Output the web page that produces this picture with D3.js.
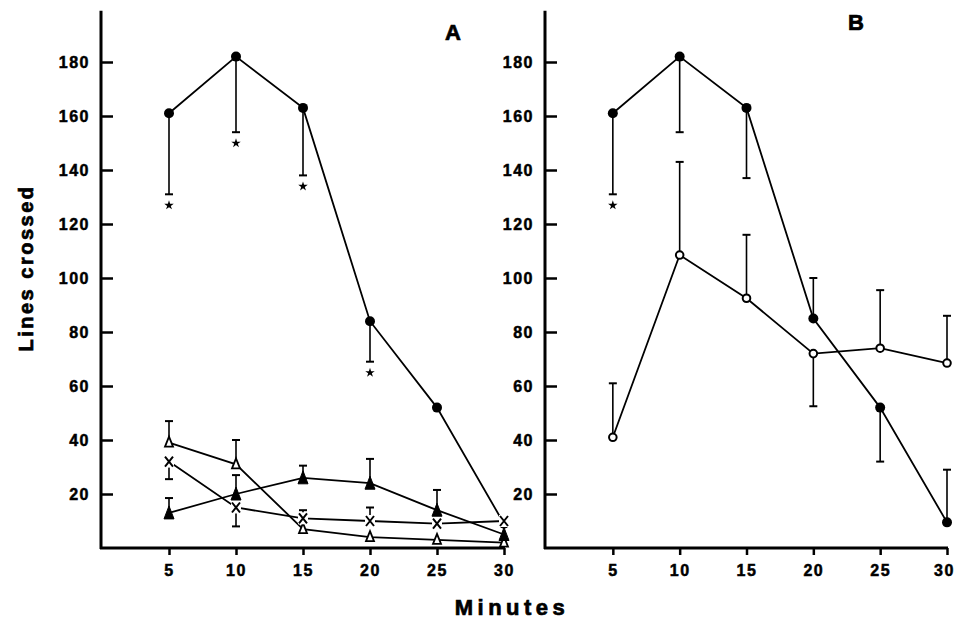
<!DOCTYPE html>
<html>
<head>
<meta charset="utf-8">
<script src="https://cdn.jsdelivr.net/npm/d3@7"></script>
<style>
  body { margin: 0; background: #fff; }
  svg { display: block; }
  .tick text { font-family: "Liberation Sans", Arial, sans-serif; font-weight: bold; font-size: 16px; fill: #000; stroke: #000; stroke-width: 0.5px; letter-spacing: 1.5px; }
  .tick line { stroke: #000; stroke-width: 2.5px; }
  .lbl { font-family: "Liberation Sans", Arial, sans-serif; font-weight: bold; fill: #000; stroke: #000; stroke-width: 0.7px; }
</style>
</head>
<body>
<div id="chart"></div>
<script>
const minutes = [5, 10, 15, 20, 25, 30];
const yTicks = [20, 40, 60, 80, 100, 120, 140, 160, 180];

// panel A
const aFilledCircle = [161, 182, 163, 84, 52, 9];
const aFilledCircleErr = [131, 154, 138, 69, null, null];
const aFilledCircleStars = [5, 10, 15, 20];
const aOpenTri = [39, 31, 7, 4, 3, 2];
const aOpenTriErr = [47, 40, null, null, null, null];
const aCross = [32, 15, 11, 10, 9, 10];
const aCrossErr = [25.5, 8, 14, 15, null, null];
const aFilledTri = [13, 20, 26, 24, 14, 5];
const aFilledTriErr = [18.5, 27, 30.5, 33, 21.5, null];

// panel B
const bFilledCircle = [161, 182, 163, 85, 52, 9.5];
const bFilledCircleErr = [131, 154, 137, 100, 32, 29];
const bFilledCircleStars = [5];
const bOpenCircle = [41, 108.5, 92.5, 72, 74, 68.5];
const bOpenCircleErr = [61, 143, 116, 52.5, 95.5, 86];

const width = 956, height = 625;
const svg = d3.select("#chart").append("svg")
    .attr("width", width)
    .attr("height", height);

const y = d3.scaleLinear().domain([0, 180]).range([548, 62]);
const xA = d3.scaleLinear().domain([0, 30]).range([102, 504]);
const xB = d3.scaleLinear().domain([0, 30]).range([546, 947]);

function drawAxes(x) {
    const g = svg.append("g");
    g.append("g")
        .attr("transform", "translate(" + x(0) + ",0)")
        .call(d3.axisLeft(y).tickValues(yTicks).tickSizeInner(-11).tickSizeOuter(0).tickPadding(12))
        .call(s => s.select(".domain").remove());
    const xg = g.append("g")
        .attr("transform", "translate(0," + y(0) + ")")
        .call(d3.axisBottom(x).tickValues(minutes).tickSizeInner(7).tickSizeOuter(0).tickPadding(10))
        .call(s => s.select(".domain").remove());
    // keep the last label inside the page
    if (x(30) > width - 20) {
        xg.selectAll(".tick text").filter(d => d === 30).attr("dx", -3);
    }
    g.append("line")
        .attr("x1", x(0) - 1).attr("x2", x(0) - 1)
        .attr("y1", y(0) + 1).attr("y2", y(199))
        .attr("stroke", "#000").attr("stroke-width", 3);
    g.append("line")
        .attr("x1", x(0) - 2).attr("x2", x(30) + 1)
        .attr("y1", y(0)).attr("y2", y(0))
        .attr("stroke", "#000").attr("stroke-width", 3);
}

function drawSeries(x, values, errs, marker) {
    const g = svg.append("g");
    const line = d3.line().x((d, i) => x(minutes[i])).y(d => y(d));
    // error bars
    errs.forEach((e, i) => {
        if (e === null) return;
        const cx = x(minutes[i]);
        g.append("line")
            .attr("x1", cx).attr("x2", cx)
            .attr("y1", y(values[i])).attr("y2", y(e))
            .attr("stroke", "#000").attr("stroke-width", 1.6);
        g.append("line")
            .attr("x1", cx - 4).attr("x2", cx + 4)
            .attr("y1", y(e)).attr("y2", y(e))
            .attr("stroke", "#000").attr("stroke-width", 2);
    });
    g.append("path")
        .datum(values)
        .attr("d", line)
        .attr("fill", "none")
        .attr("stroke", "#000")
        .attr("stroke-width", 1.8);
    const pts = g.selectAll(".pt").data(values).join("g")
        .attr("transform", (d, i) => "translate(" + x(minutes[i]) + "," + y(d) + ")");
    if (marker === "filledCircle") {
        pts.append("circle").attr("r", 5).attr("fill", "#000");
    } else if (marker === "openCircle") {
        pts.append("circle").attr("r", 3.8).attr("fill", "#fff")
            .attr("stroke", "#000").attr("stroke-width", 2);
    } else if (marker === "openTri") {
        pts.append("path").attr("d", "M0,-6 L4,4 L-4,4 Z").attr("fill", "#fff")
            .attr("stroke", "#000").attr("stroke-width", 1.8);
    } else if (marker === "filledTri") {
        pts.append("path").attr("d", "M0,-7 L5,6 L-5,6 Z").attr("fill", "#000")
            .attr("stroke", "#000").attr("stroke-width", 1);
    } else if (marker === "cross") {
        pts.append("rect").attr("x", -5).attr("y", -6).attr("width", 10).attr("height", 12).attr("fill", "#fff");
        pts.append("path").attr("d", "M-4,-5 L4,5 M4,-5 L-4,5")
            .attr("stroke", "#000").attr("stroke-width", 2).attr("fill", "none");
    }
}

function drawStars(x, values, errs, starMinutes) {
    starMinutes.forEach(m => {
        const i = minutes.indexOf(m);
        svg.append("path")
            .attr("d", d3.symbol(d3.symbolStar, 28)())
            .attr("transform", "translate(" + x(m) + "," + (y(errs[i]) + 11) + ")")
            .attr("fill", "#000");
    });
}

drawAxes(xA);
drawAxes(xB);

drawSeries(xA, aFilledCircle, aFilledCircleErr, "filledCircle");
drawStars(xA, aFilledCircle, aFilledCircleErr, aFilledCircleStars);
drawSeries(xA, aOpenTri, aOpenTriErr, "openTri");
drawSeries(xA, aFilledTri, aFilledTriErr, "filledTri");
drawSeries(xA, aCross, aCrossErr, "cross");

drawSeries(xB, bOpenCircle, bOpenCircleErr, "openCircle");
drawSeries(xB, bFilledCircle, bFilledCircleErr, "filledCircle");
drawStars(xB, bFilledCircle, bFilledCircleErr, bFilledCircleStars);

// panel letters and axis titles
svg.append("text").attr("class", "lbl").attr("x", 453).attr("y", 40)
    .attr("text-anchor", "middle").attr("font-size", 22).text("A");
svg.append("text").attr("class", "lbl").attr("x", 856).attr("y", 30)
    .attr("text-anchor", "middle").attr("font-size", 22).text("B");
svg.append("text").attr("class", "lbl")
    .attr("transform", "translate(33,268) rotate(-90)")
    .attr("text-anchor", "middle").attr("font-size", 20)
    .attr("letter-spacing", 2.5).text("Lines crossed");
svg.append("text").attr("class", "lbl").attr("x", 512).attr("y", 615)
    .attr("text-anchor", "middle").attr("font-size", 22)
    .attr("letter-spacing", 4.5).text("Minutes");
</script>
</body>
</html>
